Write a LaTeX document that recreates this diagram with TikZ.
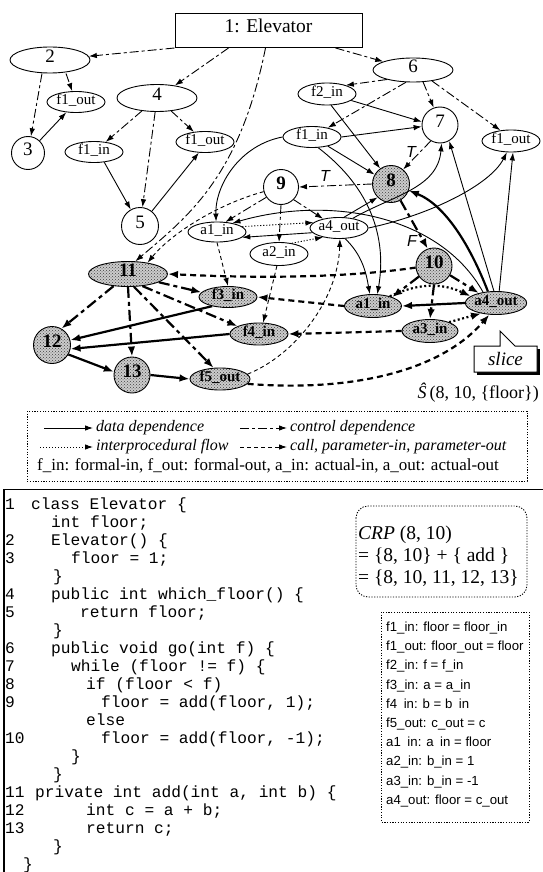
\documentclass[tikz,border=0pt]{standalone}
\usepackage{fontspec}
\setmainfont{Liberation Serif}
\newfontfamily\codefont{Liberation Mono}
\newfontfamily\sansf{Liberation Sans}
\usetikzlibrary{arrows.meta,shapes.geometric,patterns,calc}
\newcommand\myfs[1]{\fontsize{#1}{#1}\selectfont}
\begin{document}
\begin{tikzpicture}[x=1pt,y=-1pt,
  nd/.style={draw, line width=0.9pt, inner sep=0pt, text height=0.68em, text depth=0.2em},
  bigell/.style={nd, ellipse, minimum width=80, minimum height=26, font=\myfs{19}},
  smell/.style={nd, ellipse, minimum width=58, minimum height=21, font=\myfs{15}},
  circ/.style={nd, circle, minimum size=36, font=\myfs{19}},
  shd/.style={preaction={fill=black!20}, pattern=crosshatch dots, pattern color=black!75},
  ln/.style={line width=0.9pt, -{Latex[length=8pt,width=5.5pt]}},
  dataE/.style={ln},
  ctrlE/.style={ln, dash pattern=on 9pt off 3pt on 3pt off 3pt},
  callE/.style={ln, dash pattern=on 4pt off 3pt},
  summE/.style={ln, dash pattern=on 1.2pt off 1.8pt},
  tk/.style={line width=2.2pt, -{Latex[length=10pt,width=7.5pt]}},
  tdataE/.style={tk},
  tctrlE/.style={tk, dash pattern=on 11pt off 4pt on 4pt off 4pt},
  tcallE/.style={tk, dash pattern=on 6pt off 4pt},
  tsummE/.style={tk, dash pattern=on 2pt off 2.5pt},
  lblTF/.style={font=\sansf\itshape\myfs{16}, inner sep=0pt},
  densedot/.style={line width=0.9pt, dash pattern=on 1.2pt off 1.5pt},
  lg/.style={anchor=west, inner sep=0pt, font=\myfs{16}},
  codeln/.style={anchor=west, inner sep=0pt, font=\codefont\myfs{16.2}, text height=0.7em, text depth=0.2em},
  defln/.style={anchor=west, inner sep=0pt, font=\sansf\myfs{13.2}, text height=0.7em, text depth=0.2em},
  crpln/.style={anchor=west, inner sep=0pt, font=\myfs{19.5}, text height=0.7em, text depth=0.2em}
]
\useasboundingbox (0,0) rectangle (542,872);
\fill[white] (0,0) rectangle (542,872);

% ---------- nodes ----------
\node[nd, rectangle, minimum width=187, minimum height=34, line width=1pt, font=\myfs{19.5}] (elev) at (268.5,30.5) {1: Elevator};
\node[bigell] (n2) at (50,60) {2};
\node[smell] (fa) at (76,102) {f1\_out};
\node[circ, minimum size=33] (n3) at (28,153) {3};
\node[bigell, minimum height=27] (n4) at (157,98) {4};
\node[smell] (fb) at (94,152) {f1\_in};
\node[smell] (fc) at (205,142) {f1\_out};
\node[circ, minimum size=37] (n5) at (140,226) {5};
\node[bigell, minimum height=24] (n6) at (413,70) {6};
\node[smell, minimum height=22] (f2) at (327,94) {f2\_in};
\node[circ] (n7) at (440,125) {7};
\node[smell] (fd) at (312,137) {f1\_in};
\node[smell, minimum height=22] (fe) at (511,141) {f1\_out};
\node[circ, shd, minimum size=37] (n8) at (391,184) {\bfseries 8};
\node[circ, minimum size=35] (n9) at (281,187) {\bfseries 9};
\node[smell, minimum height=20] (a1u) at (217,232) {a1\_in};
\node[smell] (a4u) at (339,228) {a4\_out};
\node[smell, minimum height=23] (a2u) at (279,254) {a2\_in};
\node[bigell, shd, minimum width=79, minimum height=25] (n11) at (128,274) {\bfseries 11};
\node[smell, shd] (f3) at (228,297) {\bfseries f3\_in};
\node[smell, shd, minimum height=22] (f4) at (259,334) {\bfseries f4\_in};
\node[circ, shd, minimum size=37] (n12) at (52,345) {\bfseries 12};
\node[circ, shd] (n13) at (132,375) {\bfseries 13};
\node[smell, shd, minimum width=60, minimum height=22] (f5) at (220,379) {\bfseries f5\_out};
\node[circ, shd] (n10) at (434,266) {\bfseries 10};
\node[smell, shd, minimum width=57, minimum height=23] (a1l) at (373,306) {\bfseries a1\_in};
\node[smell, shd, minimum height=23] (a4l) at (496,303) {\bfseries a4\_out};
\node[smell, shd, minimum width=56, minimum height=23] (a3l) at (430,331) {\bfseries a3\_in};

% ---------- Elevator / constructor / which_floor ----------
\draw[ctrlE] (elev.south west) -- (n2);
\draw[ctrlE] ([xshift=-40]elev.south) -- (n4);
\draw[ctrlE] ([xshift=-3]elev.south) .. controls (240,175) and (190,215) .. (n11.60);
\draw[ctrlE] ([xshift=67]elev.south) -- (n6);
\draw[ctrlE] ([xshift=-8]n2.south) -- (n3);
\draw[ctrlE] ([xshift=16]n2.south) -- (fa);
\draw[dataE] (n3) -- (fa);
\draw[ctrlE] (n4) -- (fb);
\draw[ctrlE] (n4) -- (n5);
\draw[ctrlE] (n4) -- (fc);
\draw[dataE] (fb.-45) -- (n5);
\draw[dataE] (n5) -- (fc.240);

% ---------- go ----------
\draw[ctrlE] (n6.200) -- (f2.25);
\draw[ctrlE] (n6.240) -- (fd);
\draw[ctrlE] (n6.-50) -- (n7.110);
\draw[ctrlE] (n6.-30) -- (fe.135);
\draw[dataE] (f2.-15) -- (n7.170);
\draw[dataE] (f2.-70) -- (n8.125);
\draw[dataE] (fd.east) -- (n7.185);
\draw[dataE] (fd.-30) -- (n8.150);
\draw[ctrlE] (n7.-120) -- (n8.50);
\node[lblTF] (tlab1) at (411,152) {T};
\draw[ctrlE] (n8.west) -- (n9.east);
\node[lblTF] (tlab2) at (325,176) {T};
\draw[tctrlE] (n8.-60) -- (n10.110);
\node[lblTF] (flab) at (412,241) {F};

\draw[dataE] (a4u.35) to[out=30,in=-95] (n7.-85);
\draw[dataE] (a4u.65) -- (n8.-135);
\draw[dataE] (a4u.east) .. controls (430,215) and (490,185) .. (fe.-110);
\draw[tdataE] (a4l.125) .. controls (470,245) and (445,205) .. (n8.-20);
\draw[dataE] (a4l.100) -- (n7.-60);
\draw[dataE] (a4l.75) -- (fe.-80);
\draw[dataE] (a4l.140) .. controls (440,215) and (330,195) .. (a1u.30);
\draw[dataE] (a4u.190) -- (a1u.-12);
\draw[summE] (a1u.12) -- (a4u.168);
\draw[summE] (a2u.40) -- (a4u.-150);
\draw[ctrlE] (n9.215) -- (a1u.50);
\draw[ctrlE] (n9.south) -- (a2u.north);
\draw[ctrlE] (n9.-45) -- (a4u.150);
\draw[callE] (n9.195) .. controls (215,205) and (170,235) .. (n11.30);
\draw[dataE] (fd.west) .. controls (240,145) and (215,185) .. (a1u.95);
\draw[dataE] (fd.-60) .. controls (380,195) and (385,250) .. (a1l.70);
\draw[dataE] (a4u.-60) .. controls (362,255) and (366,272) .. (a1l.105);
\draw[callE] (a1u.south) -- (f3.north);
\draw[callE] (a2u.-100) -- (f4.70);
\draw[callE] (f5.10) .. controls (295,355) and (338,300) .. (a4u.-85);

% ---------- call site 10 ----------
\draw[tctrlE] (n10.215) -- (a1l.25);
\draw[tctrlE] (n10.south) -- (a3l.north);
\draw[tctrlE] (n10.-30) -- (a4l.150);
\draw[tcallE] (n10.185) .. controls (330,280) and (230,277) .. (n11.east);
\draw[tcallE] (a1l.west) -- (f3.east);
\draw[tcallE] (a3l.west) -- (f4.east);
\draw[tcallE] (f5.-10) .. controls (350,392) and (440,372) .. (a4l.-120);
\draw[tsummE] (a1l.30) to[out=25,in=155] (a4l.165);
\draw[tsummE] (a3l.25) -- (a4l.-145);
\draw[tdataE] (a4l.west) -- (a1l.east);

% ---------- add ----------
\draw[tctrlE] (n11.220) -- (n12.60);
\draw[tctrlE] (n11.-90) -- (n13.north);
\draw[tctrlE] (n11.-15) -- (f3.170);
\draw[tctrlE] (n11.-40) -- (f4.160);
\draw[tctrlE] (n11.-65) -- (f5.120);
\draw[tdataE] (f3.-150) -- (n12.15);
\draw[tdataE] (f4.west) -- (n12.-12);
\draw[tdataE] (n12.-30) -- (n13.170);
\draw[tdataE] (n13.east) -- (f5.west);

% ---------- slice callout ----------
\fill[black] (476.5,348.5) rectangle (539.5,374.5);
\draw[line width=1pt, fill=white] (474,346) -- (500,346) -- (500,331) -- (515,346) -- (537,346) -- (537,372) -- (474,372) -- cycle;
\node[font=\myfs{19}\itshape, inner sep=0pt] (slicelbl) at (505.5,359) {slice};
\node[font=\myfs{18}, inner sep=0pt, anchor=east] (shat) at (539,393) {{\itshape\^{S}}\,(8, 10, \{floor\})};

% ---------- legend ----------
\draw[densedot] (27,411) rectangle (527,481);
\coordinate (la1) at (44,428); \coordinate (la2) at (93,428);
\coordinate (lb1) at (240,428); \coordinate (lb2) at (287,428);
\coordinate (lc1) at (40,447); \coordinate (lc2) at (93,447);
\coordinate (ld1) at (240,447); \coordinate (ld2) at (287,447);
\draw[dataE] (la1) -- (la2);
\draw[ctrlE] (lb1) -- (lb2);
\draw[summE] (lc1) -- (lc2);
\draw[callE] (ld1) -- (ld2);
\node[lg] (lt1) at (96,428) {\itshape data dependence};
\node[lg] (lt2) at (290,428) {\itshape control dependence};
\node[lg] (lt3) at (96,447) {\itshape interprocedural flow};
\node[lg] (lt4) at (290,447) {\itshape call, parameter-in, parameter-out};
\node[lg, font=\myfs{17}] (lt5) at (37,466) {f\_in: formal-in, f\_out: formal-out, a\_in: actual-in, a\_out: actual-out};

% ---------- code box ----------
\draw[line width=1.2pt] (4,880) -- (4,489.5) -- (550,489.5);
\foreach \k/\num/\xx/\txt in {
 0/1/31/{class Elevator \{},
 1//51/{int floor;},
 2/2/51/{Elevator() \{},
 3/3/71/{floor = 1;},
 4//53/{\}},
 5/4/51/{public int which\_floor() \{},
 6/5/80/{return floor;},
 7//53/{\}},
 8/6/51/{public void go(int f) \{},
 9/7/71/{while (floor != f) \{},
 10/8/86/{if (floor < f)},
 11/9/101/{floor = add(floor, 1);},
 12//86/{else},
 13/10/101/{floor = add(floor, -1);},
 14//71/{\}},
 15//53/{\}},
 16/11/35/{private int add(int a, int b) \{},
 17/12/86/{int c = a + b;},
 18/13/86/{return c;},
 19//53/{\}},
 20//23/{\}}}
{
  \node[codeln] (cn\k) at (5,507+18*\k) {\num};
  \node[codeln] (ct\k) at (\xx,507+18*\k) {\txt};
}

% ---------- CRP box ----------
\draw[densedot, rounded corners=12] (356,506) rectangle (527,597);
\node[crpln] (crp1) at (358,537) {\textit{CRP} (8, 10)};
\node[crpln] (crp2) at (358,559) {= \{8, 10\} + \{ add \}};
\node[crpln] (crp3) at (358,581) {= \{8, 10, 11, 12, 13\}};

% ---------- definitions box ----------
\draw[densedot] (381,612) rectangle (529,822);
\foreach \k/\txt in {
 0/{f1\_in: floor = floor\_in},
 1/{f1\_out: floor\_out = floor},
 2/{f2\_in: f = f\_in},
 3/{f3\_in: a = a\_in},
 4/{f4\hspace{0.5em}in: b = b\hspace{0.5em}in},
 5/{f5\_out: c\_out = c},
 6/{a1\hspace{0.5em}in: a\hspace{0.5em}in = floor},
 7/{a2\_in: b\_in = 1},
 8/{a3\_in: b\_in = -1},
 9/{a4\_out: floor = c\_out}}
{
  \node[defln] (dl\k) at (386,629+19.2*\k) {\txt};
}
\end{tikzpicture}
\end{document}
